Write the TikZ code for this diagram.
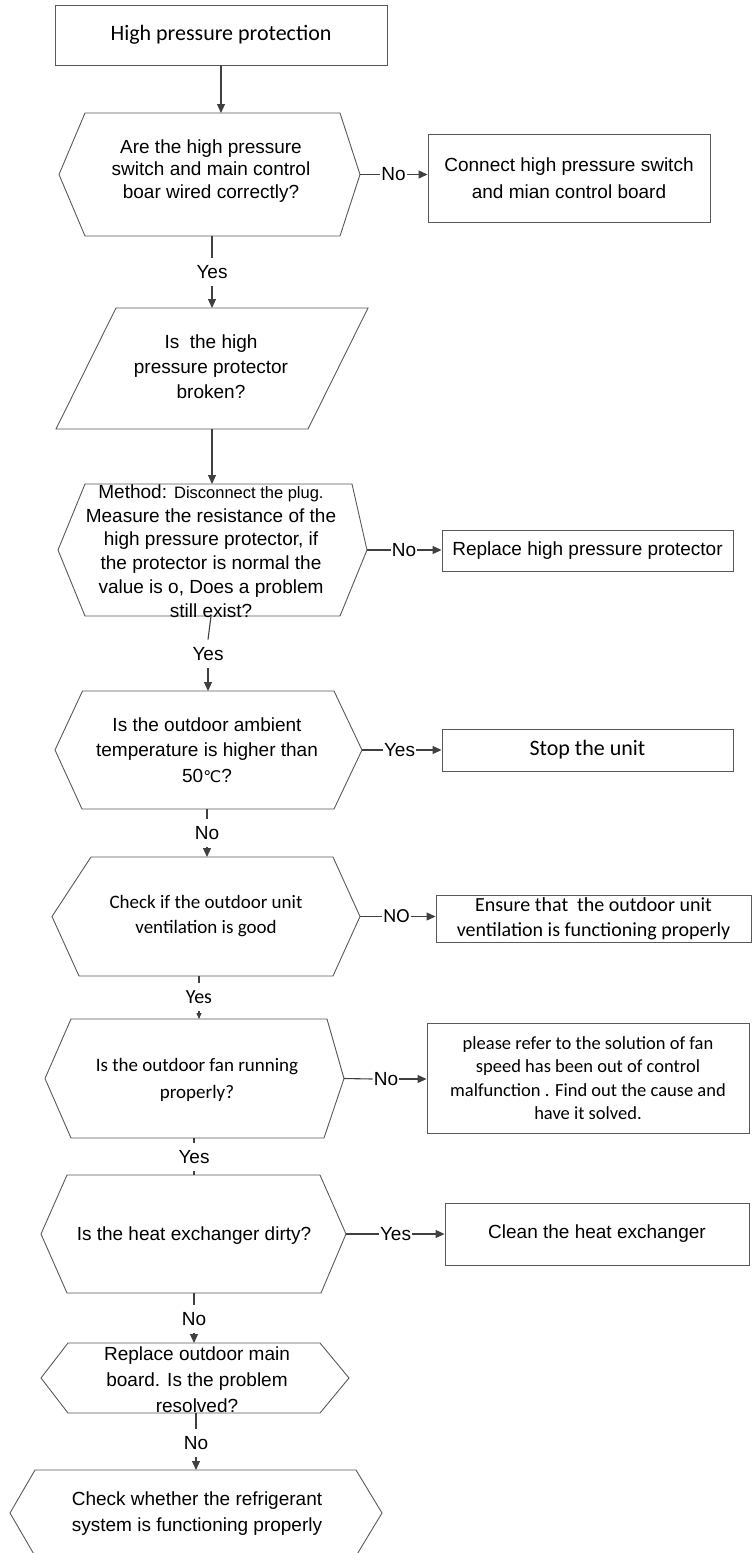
\documentclass[tikz,border=0pt]{standalone}
\usepackage{fontspec}
\setmainfont{Liberation Sans}
\newfontfamily\calibfont{Carlito}
\newfontfamily\symfont{DejaVu Sans}
\usetikzlibrary{arrows.meta}
\definecolor{edgegray}{HTML}{595959}
\definecolor{linkgray}{HTML}{404040}

% hexagonal decision outline:
% #1 name, #2 top y, #3 bottom y, #4 left tip x, #5 top-left x, #6 top-right x,
% #7 right tip x, #8 bottom-left x, #9 bottom-right x
\newcommand\hexa[9]{%
  \draw[outline] (#4,{(#2+#3)/2}) -- (#5,#2) -- (#6,#2) -- (#7,{(#2+#3)/2})
     -- (#9,#3) -- (#8,#3) -- cycle;
  \coordinate (#1-w) at (#4,{(#2+#3)/2});
  \coordinate (#1-e) at (#7,{(#2+#3)/2});
  \coordinate (#1-top) at (0,#2);
  \coordinate (#1-bot) at (0,#3);
}

\begin{document}
\begin{tikzpicture}[x=1pt,y=-1pt,
  outline/.style={draw=edgegray, line width=0.9pt},
  boxnode/.style={outline, rectangle, align=center, inner sep=0pt},
  arial/.style={font=\fontsize{19}{#1}\selectfont},
  calib/.style={font=\calibfont\fontsize{19}{#1}\selectfont},
  txt/.style={align=center, inner sep=0pt},
  link/.style={draw=linkgray, line width=1.1pt},
  flow/.style={link, -{Triangle[length=9pt,width=8pt]}},
  smallflow/.style={link, -{Triangle[length=6pt,width=5pt]}},
  hlab/.style={inner xsep=1pt, inner ysep=2pt, font=\fontsize{19}{22}\selectfont},
  vlab/.style={inner xsep=1pt, inner ysep=7.5pt, text height=13.5pt, text depth=0pt,
               font=\fontsize{19}{22}\selectfont}
]
\useasboundingbox (0,0) rectangle (752,1553);
\clip (0,0) rectangle (752,1553);

% ---------- start ----------
\node[boxnode, minimum width=332pt, minimum height=60pt,
      font=\calibfont\fontsize{22}{26}\selectfont] (b1) at (221,35) {High pressure protection};

% ---------- wiring check ----------
\hexa{h1}{113}{236}{59}{85}{340}{360}{85}{340}
\node[txt, arial=22.5] (h1t) at (211,171)
  {Are the high pressure\\switch and main control\\boar wired correctly?};
\node[boxnode, minimum width=282pt, minimum height=88pt, arial=27] (c1) at (569,178)
  {Connect high pressure switch\\and mian control board};
\node[hlab] (n1) at (393.5,174.5) {No};

% ---------- protector broken ----------
\node[vlab] (y1) at (212,272) {Yes};
\draw[outline] (116,308) -- (368,308) -- (308,429) -- (56,429) -- cycle;
\coordinate (p1-top) at (0,308);
\coordinate (p1-bot) at (0,429);
\node[txt, arial=25] (p1t) at (211,367) {Is\ \ the high\\pressure protector\\broken?};

% ---------- resistance measurement ----------
\hexa{h2}{484}{616}{58}{85}{352}{367}{85}{340}
\node[txt, arial=23.8] (h2t) at (211,551)
  {Method: {\fontsize{16.5}{23.8}\selectfont Disconnect the plug.}\\
   Measure the resistance of the\\high pressure protector, if\\
   the protector is normal the\\value is o, Does a problem\\still exist?};
\coordinate (h2-s) at (211,616);
\node[boxnode, minimum width=291pt, minimum height=41pt, arial=22] (r1) at (587.5,550.5)
  {Replace high pressure protector};
\node[hlab] (n2) at (404,550) {No};

% ---------- ambient temperature ----------
\node[vlab] (y2) at (208,654) {Yes};
\hexa{h3}{691}{809}{55}{82.5}{334}{362}{82}{334}
\node[txt, arial=25.5] (h3t) at (207,750)
  {Is the outdoor ambient\\temperature is higher than\\50{\symfont\fontsize{16}{20}\selectfont ℃}?};
\node[boxnode, minimum width=291pt, minimum height=42pt,
      font=\calibfont\fontsize{22}{26}\selectfont] (s1) at (587.5,750) {Stop the unit};
\node[hlab] (n3) at (399.5,750) {Yes};

% ---------- ventilation ----------
\node[vlab] (y3) at (207,833) {No};
\hexa{h4}{857}{976}{52}{91}{333}{360}{79}{333}
\node[txt, calib=25] (h4t) at (206,916.5) {Check if the outdoor unit\\ventilation is good};
\node[boxnode, minimum width=315pt, minimum height=47pt,
      font=\calibfont\fontsize{20}{25}\selectfont] (e1) at (593.5,918.5)
  {Ensure that\ \ the outdoor unit\\ventilation is functioning properly};
\node[hlab, font=\calibfont\fontsize{20}{22}\selectfont] (n4) at (396.5,916.5) {NO};

% ---------- outdoor fan ----------
\node[vlab, font=\calibfont\fontsize{20}{22}\selectfont] (y4) at (199,997) {Yes};
\hexa{h5}{1019}{1138}{45}{71}{327}{344}{71}{324}
\node[txt, calib=27] (h5t) at (197,1079.5) {Is the outdoor fan running\\properly?};
\node[boxnode, minimum width=322pt, minimum height=110pt,
      font=\calibfont\fontsize{18.5}{23.3}\selectfont] (pl) at (588,1078)
  {please refer to the solution of fan\\speed has been out of control\\
   malfunction . Find out the cause and\\have it solved.};
\node[hlab] (n5) at (386,1079) {No};

% ---------- heat exchanger ----------
\node[vlab] (y5) at (194,1157) {Yes};
\hexa{h6}{1175}{1293}{41}{67}{320}{346}{67}{321}
\node[txt, arial=22] (h6t) at (194,1236) {Is the heat exchanger dirty?};
\node[boxnode, minimum width=304pt, minimum height=62pt, arial=22] (cl) at (597,1234)
  {Clean the heat exchanger};
\node[hlab] (n6) at (395.5,1234) {Yes};

% ---------- main board ----------
\node[vlab] (y6) at (194,1319) {No};
\hexa{h7}{1343}{1413}{41}{68}{320}{349}{68}{320}
\node[txt, arial=26] (h7t) at (197,1380) {Replace outdoor main\\board. Is the problem\\resolved?};

% ---------- refrigerant system ----------
\node[vlab] (y7) at (196,1443) {No};
\hexa{h8}{1470}{1556}{10}{35}{356}{382}{35}{356}
\node[txt, arial=26] (h8t) at (197,1514) {Check whether the refrigerant\\system is functioning properly};

% ---------- vertical connectors ----------
\draw[flow] (b1.south) -- (b1.south |- h1-top);
\draw[link] (y1.north |- h1-bot) -- (y1.north);
\draw[flow] (y1.south) -- (y1.south |- p1-top);
\draw[flow] (y1.south |- p1-bot) -- (y1.south |- h2-top);
\draw[link] (h2-s) -- (y2.north);
\draw[flow] (y2.south) -- (y2.south |- h3-top);
\draw[link] (y3.north |- h3-bot) -- (y3.north);
\draw[flow] (y3.south) -- (y3.south |- h4-top);
\draw[link] (y4.north |- h4-bot) -- (y4.north);
\draw[smallflow] (y4.south) -- (y4.south |- h5-top);
\draw[link] (y5.north |- h5-bot) -- (y5.north);
\draw[link] (y5.south) -- (y5.south |- h6-top);
\draw[link] (y6.north |- h6-bot) -- (y6.north);
\draw[flow] (y6.south) -- (y6.south |- h7-top);
\draw[link] (y7.north |- h7-bot) -- (y7.north);
\draw[flow] (y7.south) -- (y7.south |- h8-top);

% ---------- side branches ----------
\draw[link] (h1-e) -- (n1.west);
\draw[flow] (n1.east) -- (c1.west |- n1.east);
\draw[link] (h2-e) -- (n2.west);
\draw[flow] (n2.east) -- (r1.west |- n2.east);
\draw[link] (h3-e) -- (n3.west);
\draw[flow] (n3.east) -- (s1.west |- n3.east);
\draw[link] (h4-e) -- (n4.west);
\draw[flow] (n4.east) -- (e1.west |- n4.east);
\draw[link] (h5-e) -- (n5.west);
\draw[flow] (n5.east) -- (pl.west |- n5.east);
\draw[link] (h6-e) -- (n6.west);
\draw[flow] (n6.east) -- (cl.west |- n6.east);
\end{tikzpicture}
\end{document}
